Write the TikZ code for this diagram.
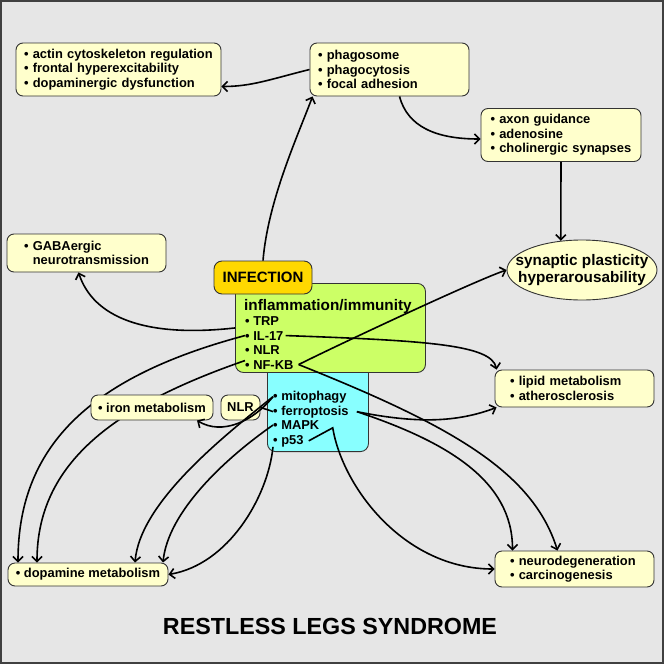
\documentclass[tikz,border=0pt]{standalone}
\usepackage{fontspec}
\setmainfont{Liberation Sans}
\usetikzlibrary{arrows.meta,shapes.geometric}

\definecolor{bggray}{HTML}{E6E6E6}
\definecolor{paleyellow}{HTML}{FFFFCC}
\definecolor{limegreen}{HTML}{CCFF66}
\definecolor{skycyan}{HTML}{88FFFF}
\definecolor{goldbox}{HTML}{FFD800}

\newcommand{\bodyfont}{\fontsize{12.9}{14.5}\selectfont\bfseries}
\newcommand{\headfont}{\fontsize{15.3}{16.8}\selectfont\bfseries}

\tikzset{
  infobox/.style={draw=black!80, fill=paleyellow, line width=0.9pt, rounded corners=7pt,
    font=\bodyfont, align=left, inner ysep=0pt},
  item/.style={anchor=base west, inner sep=0pt, font=\bodyfont},
  link/.style={line width=1.6pt, -{Straight Barb[length=5pt,width=10pt]}},
  plain/.style={line width=1.6pt},
}

\begin{document}
\begin{tikzpicture}[x=1pt,y=1pt]
  \useasboundingbox (0,0) rectangle (664,-664);
  % --- Background and frame ---
  \fill[bggray] (0,0) rectangle (664,-664);
  \draw[black!75, line width=2pt] (1,-1) rectangle (663,-663);

  % --- Outer boxes ---
  \node[infobox, text width=189pt, inner xsep=8pt, minimum height=53pt] (actin) at (118.5,-69.5)
    {• actin cytoskeleton regulation\\• frontal hyperexcitability\\• dopaminergic dysfunction};
  \node[infobox, text width=143pt, inner xsep=8pt, minimum height=53pt] (phago) at (389.5,-69.5)
    {• phagosome\\• phagocytosis\\• focal adhesion};
  \node[infobox, text width=141pt, inner xsep=9.5pt, minimum height=53pt] (axon) at (561,-135)
    {• axon guidance\\• adenosine\\• cholinergic synapses};
  \node[infobox, text width=125pt, inner xsep=17pt, minimum height=38pt] (gaba) at (86.5,-253)
    {• GABAergic\\\hphantom{• }neurotransmission};
  \node[infobox, text width=129pt, inner xsep=15pt, minimum height=37pt] (lipid) at (574.5,-388.5)
    {• lipid metabolism\\• atherosclerosis};
  \node[infobox, text width=129pt, inner xsep=15pt, minimum height=36pt] (neuro) at (574.5,-569)
    {• neurodegeneration\\• carcinogenesis};
  \node[infobox, align=center, minimum width=160pt, minimum height=23pt] (dopa) at (88,-574.5)
    {• dopamine metabolism};
  \node[draw=black!80, fill=paleyellow, line width=0.9pt, ellipse, minimum width=150pt,
    minimum height=60pt, inner sep=0pt] (syn) at (582,-270) {};
  \node[font=\headfont, align=center, inner sep=0pt] (syntext) at (syn)
    {synaptic plasticity\\hyperarousability};

  % --- Central boxes ---
  \node[draw=black!80, fill=skycyan, line width=0.9pt, rounded corners=8pt, inner sep=0pt,
    minimum width=101pt, minimum height=100pt, anchor=south west] (cyanbox) at (267,-452) {};
  \node[draw=black!80, fill=limegreen, line width=0.9pt, rounded corners=8pt, inner sep=0pt,
    minimum width=190pt, minimum height=89pt, anchor=north west] (green) at (235,-283) {};
  \node[draw=black!80, fill=goldbox, line width=0.9pt, rounded corners=8pt, inner sep=0pt,
    minimum width=98pt, minimum height=33pt, font=\fontsize{15}{16}\selectfont\bfseries]
    (infection) at (263,-277.5) {INFECTION};
  \node[font=\headfont, anchor=base west, inner sep=0pt] (immtitle) at (244,-310.5)
    {inflammation/immunity};
  \node[item] (trp) at (245,-325.5) {• TRP};
  \node[item] (il17) at (245,-340) {• IL-17};
  \node[item] (nlr) at (245,-354.5) {• NLR};
  \node[item] (nfkb) at (245,-369) {• NF-KB};
  \node[item] (mito) at (273,-400) {• mitophagy};
  \node[item] (ferro) at (273,-415) {• ferroptosis};
  \node[item] (mapk) at (273,-429.5) {• MAPK};
  \node[item] (p53) at (273,-444) {• p53};

  % lines running under the iron box
  \draw[link] (il17.west) .. controls +(-150,-40) and +(0,120) .. ([xshift=-70pt]dopa.north);
  \draw[link] ([yshift=4pt]nfkb.west) .. controls +(-130,-45) and +(0,100) .. ([xshift=-51pt]dopa.north);
  \node[infobox, align=center, minimum width=122pt, minimum height=25pt] (iron) at (152,-407.5)
    {• iron metabolism};
  \node[infobox, minimum width=39pt, minimum height=25pt, inner xsep=2pt] (nlrbox) at (240.5,-407.5) {NLR};

  % --- Connectors ---
  \draw[link] (infection.north) .. controls +(5,60) and +(-15,-40) .. ([xshift=3pt]phago.south west);
  \draw[link] (phago.west) .. controls +(-40,-10) and +(30,0) .. ([yshift=-17pt]actin.east);
  \draw[link] ([xshift=10pt]phago.south) .. controls +(8,-30) and +(-45,0) .. ([yshift=-4pt]axon.west);
  \draw[link] (axon.south) -- (syn.126);
  \draw[link] (green.west) .. controls +(-90,-10) and +(15,-45) .. ([xshift=-8pt]gaba.south);
  \draw[link] ([xshift=5pt]nfkb.east) .. controls +(40,20) and +(-30,-10) .. (syn.west);
  \draw[link] ([xshift=5pt]nfkb.east) .. controls +(150,-60) and +(-25,80) .. ([xshift=-17pt]neuro.north);
  \draw[link] ([xshift=2pt]il17.east) .. controls +(140,-5) and +(-5,25) .. ([xshift=2pt]lipid.north west);
  \draw[link] ([xshift=8pt]ferro.east) .. controls +(60,-12) and +(-40,-15) .. ([xshift=2pt]lipid.south west);
  \draw[link] ([xshift=8pt]ferro.east) .. controls +(90,-30) and +(0,70) .. ([xshift=-62pt]neuro.north);
  \draw[link] ([xshift=5pt]p53.east) -- ++(24,13) .. controls +(10,-60) and +(-90,0) .. (neuro.west);
  \draw[plain] (nlrbox.east) .. controls +(6,-2) and +(-5,2) .. (ferro.west);
  \draw[link] (mito.west) .. controls +(-20,-25) and +(25,-15) .. ([xshift=45pt]iron.south);
  \draw[link] (mito.west) .. controls +(-50,-40) and +(5,60) .. ([xshift=47pt]dopa.north);
  \draw[link] (mapk.west) .. controls +(-50,-35) and +(5,50) .. ([xshift=75pt]dopa.north);
  \draw[link] (p53.south west) .. controls +(-5,-50) and +(60,10) .. (dopa.east);

  % Title
  \node[font=\fontsize{23.3}{26}\selectfont\bfseries, inner sep=0pt] (rlstitle) at (330,-626.5)
    {RESTLESS LEGS SYNDROME};
\end{tikzpicture}
\end{document}
